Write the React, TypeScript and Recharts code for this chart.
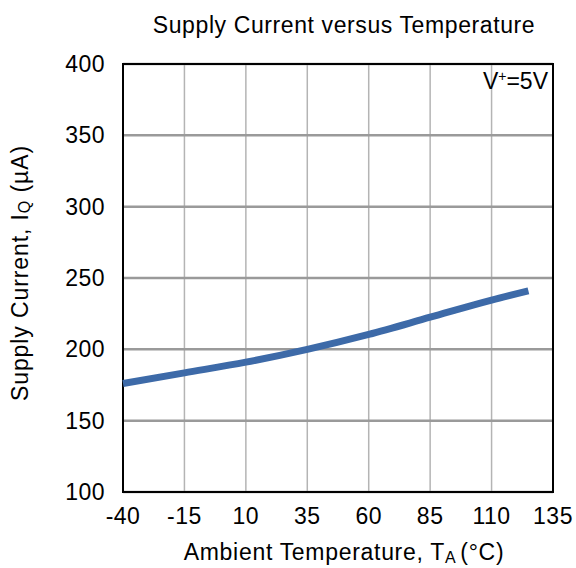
import { LineChart, Line, XAxis, YAxis, CartesianGrid, ReferenceArea, Label } from "recharts"

const temps = [-40, -15, 10, 35, 60, 85, 110, 125]
const currents = [176, 183.5, 191, 200, 210.5, 222.5, 234.5, 241]
const xTicks = [-40, -15, 10, 35, 60, 85, 110, 135]
const yTicks = [100, 150, 200, 250, 300, 350, 400]

const data = temps.map((t, i) => ({ t, iq: currents[i] }))

const font = "'Liberation Sans', Arial, sans-serif"

export default function App() {
  return (
    <div style={{ position: "absolute", left: 0, top: 0, width: 576, height: 568, background: "#fff", fontFamily: font }}>
      <div style={{ position: "absolute", left: 0, width: 688, top: 12, textAlign: "center", fontSize: 23, letterSpacing: 0.6, color: "#000", lineHeight: "26px" }}>
        Supply Current versus Temperature
      </div>
      <LineChart width={576} height={568} data={data} margin={{ top: 64, right: 23, bottom: 0, left: 0 }}>
        <CartesianGrid horizontal={false} stroke="#b4b4b4" strokeWidth={1.5} />
        <CartesianGrid vertical={false} stroke="#9a9a9a" strokeWidth={2.5} />
        <XAxis
          dataKey="t"
          type="number"
          domain={[-40, 135]}
          ticks={xTicks}
          height={76}
          tickLine={false}
          axisLine={false}
          tick={{ fill: "#000", fontSize: 23, fontFamily: font, letterSpacing: 0.5 }}
          tickMargin={10}
        >
          <Label
            position="insideBottom"
            content={() => (
              <text x={344} y={560} textAnchor="middle" fontSize={23} letterSpacing={0.7} fontFamily={font} fill="#000">
                Ambient Temperature, T<tspan fontSize={16} dy={3}>A</tspan>
                <tspan dy={-3} dx={4}>(°C)</tspan>
              </text>
            )}
          />
        </XAxis>
        <YAxis
          type="number"
          domain={[100, 400]}
          ticks={yTicks}
          width={123}
          tickLine={false}
          axisLine={false}
          tick={{ fill: "#000", fontSize: 23, fontFamily: font, letterSpacing: 0.5 }}
          tickMargin={12}
        >
          <Label
            position="insideLeft"
            content={() => {
              const cx = 22
              const cy = 273
              return (
                <text x={cx} y={cy} transform={`rotate(-90 ${cx} ${cy})`} textAnchor="middle" dominantBaseline="middle" fontSize={23} letterSpacing={0.9} fontFamily={font} fill="#000">
                  Supply Current, I<tspan fontSize={16} dy={4}>Q</tspan>
                  <tspan dy={-4}> (µA)</tspan>
                </text>
              )
            }}
          />
        </YAxis>
        <ReferenceArea x1={-40} x2={135} y1={100} y2={400} fill="none" stroke="#000" strokeWidth={2} fillOpacity={0} />
        <Line
          type="monotone"
          dataKey="iq"
          stroke="#3d6aa8"
          strokeWidth={7}
          dot={false}
          isAnimationActive={false}
        />
      </LineChart>
      <div style={{ position: "absolute", right: 28, top: 70, fontSize: 23, lineHeight: "23px", color: "#000" }}>
        V<span style={{ fontSize: 14, position: "relative", top: -8 }}>+</span>=5V
      </div>
    </div>
  )
}
